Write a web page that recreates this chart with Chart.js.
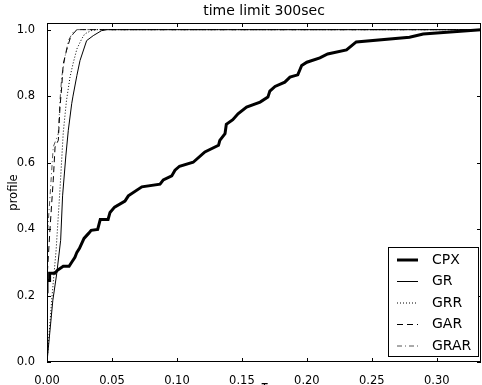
<!DOCTYPE html>
<html>
<head>
<meta charset="utf-8">
<script src="https://cdn.jsdelivr.net/npm/chart.js"></script>
<style>
  html, body { margin: 0; padding: 0; background: #fff; }
  #wrap { width: 482px; height: 385px; }
</style>
</head>
<body>
<div id="wrap"><canvas id="profile-chart" width="482" height="385"></canvas></div>
<script>
// performance profile
const xTicks = [0, 0.05, 0.10, 0.15, 0.20, 0.25, 0.30];
const yTicks = [0, 0.2, 0.4, 0.6, 0.8, 1.0];

const cpxTau = [0, 0, 0.002, 0.002, 0.006, 0.008, 0.0125, 0.017, 0.019, 0.0215, 0.023, 0.025, 0.0285, 0.032, 0.034, 0.039, 0.041, 0.047, 0.0485, 0.052, 0.060, 0.0626, 0.073, 0.087, 0.0895, 0.096, 0.0985, 0.102, 0.1125, 0.1215, 0.132, 0.133, 0.137, 0.138, 0.143, 0.147, 0.1536, 0.164, 0.170, 0.1715, 0.1755, 0.183, 0.187, 0.193, 0.196, 0.200, 0.210, 0.216, 0.2305, 0.238, 0.279, 0.2895, 0.334];
const cpxProfile = [0.207, 0.245, 0.245, 0.267, 0.267, 0.276, 0.288, 0.288, 0.300, 0.315, 0.330, 0.342, 0.372, 0.387, 0.396, 0.399, 0.429, 0.429, 0.450, 0.466, 0.484, 0.500, 0.527, 0.535, 0.548, 0.560, 0.577, 0.589, 0.601, 0.632, 0.652, 0.667, 0.687, 0.715, 0.729, 0.747, 0.767, 0.782, 0.797, 0.815, 0.829, 0.842, 0.857, 0.864, 0.892, 0.902, 0.915, 0.927, 0.939, 0.963, 0.977, 0.987, 1.0];

const grTau = [0, 0.0045, 0.0075, 0.0105, 0.012, 0.0145, 0.0164, 0.019, 0.020, 0.023, 0.0254, 0.0305, 0.0356, 0.042, 0.046, 0.334];
const grProfile = [0, 0.186, 0.266, 0.366, 0.50, 0.62, 0.697, 0.777, 0.80, 0.862, 0.907, 0.967, 0.982, 0.997, 1.0, 1.0];

const grrTau = [0, 0.0036, 0.007, 0.010, 0.0125, 0.015, 0.0177, 0.020, 0.023, 0.0267, 0.029, 0.034, 0.038, 0.334];
const grrProfile = [0, 0.186, 0.336, 0.52, 0.69, 0.787, 0.857, 0.897, 0.942, 0.972, 0.987, 0.997, 1.0, 1.0];

const garTau = [0, 0, 0.0023, 0.0048, 0.0062, 0.0087, 0.010, 0.0113, 0.0125, 0.015, 0.0177, 0.020, 0.023, 0.334];
const garProfile = [0, 0.25, 0.40, 0.547, 0.647, 0.667, 0.767, 0.827, 0.897, 0.937, 0.972, 0.987, 1.0, 1.0];

const grarTau = [0, 0, 0.0023, 0.0048, 0.0087, 0.010, 0.0113, 0.0138, 0.0164, 0.020, 0.023, 0.334];
const grarProfile = [0, 0.366, 0.497, 0.647, 0.687, 0.787, 0.857, 0.917, 0.967, 0.992, 1.0, 1.0];

function points(tau, prof) {
    return tau.map((t, i) => ({ x: t, y: prof[i] }));
}

function series(label, tau, prof, width, dash, color) {
    return {
        label: label,
        data: points(tau, prof),
        borderColor: color,
        borderWidth: width,
        borderDash: dash,
        pointRadius: 0,
        tension: 0,
        fill: false
    };
}

const FONT = 'DejaVu Sans';

// matplotlib style box, inward ticks and legend
const mplFrame = {
    id: 'mplFrame',
    afterDraw(chart) {
        const { ctx, chartArea: a, scales: { x, y } } = chart;
        ctx.save();
        ctx.strokeStyle = '#000';
        ctx.lineWidth = 1;
        ctx.strokeRect(a.left + 0.5, a.top + 0.5, a.width - 1, a.height - 1);

        const tl = 4;
        ctx.beginPath();
        xTicks.forEach(v => {
            const px = Math.round(x.getPixelForValue(v)) + 0.5;
            ctx.moveTo(px, a.bottom); ctx.lineTo(px, a.bottom - tl);
            ctx.moveTo(px, a.top); ctx.lineTo(px, a.top + tl);
        });
        yTicks.forEach(v => {
            const py = Math.round(y.getPixelForValue(v)) + 0.5;
            ctx.moveTo(a.left, py); ctx.lineTo(a.left + tl, py);
            ctx.moveTo(a.right, py); ctx.lineTo(a.right - tl, py);
        });
        ctx.stroke();

        // legend, lower right
        const bx = a.right - 93, by = a.bottom - 115, bw = 90, bh = 109;
        ctx.fillStyle = '#fff';
        ctx.fillRect(bx, by, bw, bh);
        ctx.strokeRect(bx + 0.5, by + 0.5, bw, bh);
        ctx.font = '14px "' + FONT + '"';
        ctx.textBaseline = 'middle';
        ctx.textAlign = 'left';
        chart.data.datasets.forEach((ds, i) => {
            const ly = by + 13 + i * 21.5;
            ctx.save();
            ctx.strokeStyle = ds.borderColor;
            ctx.lineWidth = ds.borderWidth;
            ctx.setLineDash(ds.borderDash || []);
            ctx.beginPath();
            ctx.moveTo(bx + 9, ly);
            ctx.lineTo(bx + 30, ly);
            ctx.stroke();
            ctx.restore();
            ctx.fillStyle = '#000';
            ctx.fillText(ds.label, bx + 44, ly);
        });
        ctx.restore();
    }
};

const ctx = document.getElementById('profile-chart').getContext('2d');
const profileChart = new Chart(ctx, {
    type: 'line',
    data: {
        datasets: [
            series('CPX', cpxTau, cpxProfile, 3, [], '#000'),
            series('GR', grTau, grProfile, 1, [], '#000'),
            series('GRR', grrTau, grrProfile, 1, [1, 2], '#000'),
            series('GAR', garTau, garProfile, 1, [6, 4], '#000'),
            series('GRAR', grarTau, grarProfile, 1, [5, 3, 1, 3], '#555')
        ]
    },
    options: {
        responsive: false,
        animation: false,
        layout: { padding: { left: 0, right: 1, top: 0, bottom: 0 } },
        scales: {
            x: {
                type: 'linear',
                min: 0,
                max: 0.334,
                afterFit: s => { s.height = 23; },
                afterBuildTicks: s => { s.ticks = xTicks.map(v => ({ value: v })); },
                grid: { display: false },
                border: { display: false },
                ticks: {
                    color: '#000',
                    padding: 4,
                    maxRotation: 0,
                    font: { family: FONT, size: 11.5 },
                    callback: v => v.toFixed(2)
                },
                title: {
                    display: true,
                    text: 'τ',
                    color: '#000',
                    padding: { top: 0, bottom: -9 },
                    font: { family: FONT, size: 12, style: 'italic' }
                }
            },
            y: {
                min: 0,
                max: 1.02,
                afterFit: s => { s.width = 47; },
                afterBuildTicks: s => { s.ticks = yTicks.map(v => ({ value: v })); },
                grid: { display: false },
                border: { display: false },
                ticks: {
                    color: '#000',
                    padding: 4,
                    font: { family: FONT, size: 11.5 },
                    callback: v => v.toFixed(1)
                },
                title: {
                    display: true,
                    text: 'profile',
                    color: '#000',
                    padding: { top: 7, bottom: 0 },
                    font: { family: FONT, size: 11.5 }
                }
            }
        },
        plugins: {
            legend: { display: false },
            tooltip: { enabled: false },
            title: {
                display: true,
                text: 'time limit 300sec',
                color: '#000',
                fullSize: false,
                padding: { top: 3, bottom: 3.2 },
                font: { family: FONT, size: 14, weight: 'normal' }
            }
        }
    },
    plugins: [mplFrame]
});
</script>
</body>
</html>
